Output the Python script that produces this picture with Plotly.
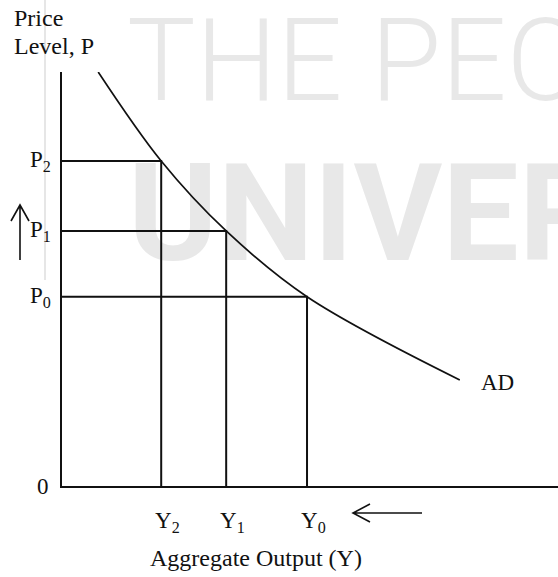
import plotly.graph_objects as go

# ---- data ----
ad_x = [0.73, 2.0, 3.31, 4.94, 8.02]
ad_y = [10.0, 7.85, 6.16, 4.57, 2.56]

output_levels = [2.0, 3.31, 4.94]          # Y2, Y1, Y0
price_levels = [7.85, 6.16, 4.57]          # P2, P1, P0
y_tick_labels = ["P<sub>2</sub>", "P<sub>1</sub>", "P<sub>0</sub>"]
x_tick_labels = ["Y<sub>2</sub>", "Y<sub>1</sub>", "Y<sub>0</sub>"]
curve_label = "AD"
x_title = "Aggregate Output (Y)"
y_title_lines = ["Price", "Level, P"]
watermark_lines = ["THE PEO", "UNIVER"]

W, H = 558, 577
L, R, T, B = 62, 0, 72, 91
PW, PH = W - L - R, H - T - B
XR, YR = 10.0, 10.0


def px(x):
    return (x - L) / PW


def py(y):
    return (H - B - y) / PH


def dx(x):
    return (x - L) / PW * XR


def dy(y):
    return (H - B - y) / PH * YR


SERIF = "Liberation Serif, Times New Roman, serif"
INK = "#111111"
FS = 23
FT = 24
WM = "#e8e8e8"

fig = go.Figure()

# watermark word behind the lines (drawn first)
fig.add_trace(go.Scatter(
    x=[dx(128)], y=[dy(226)], mode="text", text=[watermark_lines[1]],
    textposition="middle right", cliponaxis=False,
    textfont=dict(family="Roboto, Liberation Sans, sans-serif", size=136, color=WM, weight="bold"),
    showlegend=False, hoverinfo="skip"))

# guide lines
for xv, yv in zip(output_levels, price_levels):
    fig.add_trace(go.Scatter(
        x=[0, xv, xv], y=[yv, yv, 0], mode="lines",
        line=dict(color=INK, width=2), showlegend=False, hoverinfo="skip"))

# AD curve
fig.add_trace(go.Scatter(
    x=ad_x, y=ad_y, mode="lines", line=dict(color=INK, width=1.7, shape="spline", smoothing=1),
    showlegend=False, hoverinfo="skip", cliponaxis=False))

ann = [dict(x=px(125), y=py(60), xref="paper", yref="paper", text=watermark_lines[0], showarrow=False,
            xanchor="left", yanchor="middle",
            font=dict(family="Roboto, Liberation Sans, sans-serif", size=115, color=WM, weight=300))]
for lbl, yv in zip(y_tick_labels, price_levels):
    ann.append(dict(x=0, y=yv, xref="x", yref="y", text=lbl, showarrow=False,
                    xanchor="right", yanchor="middle", xshift=-9,
                    font=dict(family=SERIF, size=FS, color=INK)))
for lbl, xv in zip(x_tick_labels, output_levels):
    ann.append(dict(x=xv, y=0, xref="x", yref="y", text=lbl, showarrow=False,
                    xanchor="center", yanchor="middle", xshift=6, yshift=-36,
                    font=dict(family=SERIF, size=FS, color=INK)))
ann.append(dict(x=0, y=0, xref="x", yref="y", text="0", showarrow=False,
                xanchor="right", yanchor="middle", xshift=-11,
                font=dict(family=SERIF, size=FS, color=INK)))
ann.append(dict(x=ad_x[-1], y=ad_y[-1], xref="x", yref="y", text=curve_label, showarrow=False,
                xanchor="left", yanchor="middle", xshift=19, yshift=-2,
                font=dict(family=SERIF, size=FS, color=INK)))
ann.append(dict(x=px(256), y=py(558), xref="paper", yref="paper", text=x_title, showarrow=False,
                xanchor="center", yanchor="middle",
                font=dict(family=SERIF, size=FT, color=INK)))
ann.append(dict(x=px(12), y=py(18), xref="paper", yref="paper", text=y_title_lines[0], showarrow=False,
                xanchor="left", yanchor="middle",
                font=dict(family=SERIF, size=FT, color=INK)))
ann.append(dict(x=px(12), y=py(46), xref="paper", yref="paper", text=y_title_lines[1], showarrow=False,
                xanchor="left", yanchor="middle",
                font=dict(family=SERIF, size=FT, color=INK)))

shapes = [
    dict(type="line", xref="paper", yref="paper", x0=px(45), x1=px(45), y0=py(0), y1=py(280),
         line=dict(color="#e6e6e6", width=2), layer="below"),
    dict(type="path", xref="paper", yref="paper",
         path=f"M{px(20)},{py(260)} L{px(20)},{py(205)} M{px(11)},{py(221)} L{px(20)},{py(205)} L{px(29)},{py(221)}",
         line=dict(color=INK, width=1.6)),
    dict(type="path", xref="paper", yref="paper",
         path=f"M{px(422)},{py(513)} L{px(353)},{py(513)} M{px(370)},{py(504)} L{px(353)},{py(513)} L{px(370)},{py(522)}",
         line=dict(color=INK, width=1.6)),
]

fig.update_layout(
    width=W, height=H, margin=dict(l=L, r=R, t=T, b=B),
    paper_bgcolor="white", plot_bgcolor="rgba(0,0,0,0)",
    showlegend=False,
    xaxis=dict(range=[0, XR], showgrid=False, zeroline=False, showticklabels=False, ticks="",
               showline=True, linecolor=INK, linewidth=2, fixedrange=True),
    yaxis=dict(range=[0, YR], showgrid=False, zeroline=False, showticklabels=False, ticks="",
               showline=True, linecolor=INK, linewidth=2, fixedrange=True),
    annotations=ann,
    shapes=shapes,
)

fig.write_html("out.html", config={"displayModeBar": False})
with open("out.html", "r", encoding="utf-8") as f:
    html = f.read()
html = html.replace("<body>", '<body style="margin:0;overflow:hidden">', 1)
html = html.replace("<head>", '<head><style>html,body{margin:0;padding:0;overflow:hidden}</style>', 1)
with open("out.html", "w", encoding="utf-8") as f:
    f.write(html)
